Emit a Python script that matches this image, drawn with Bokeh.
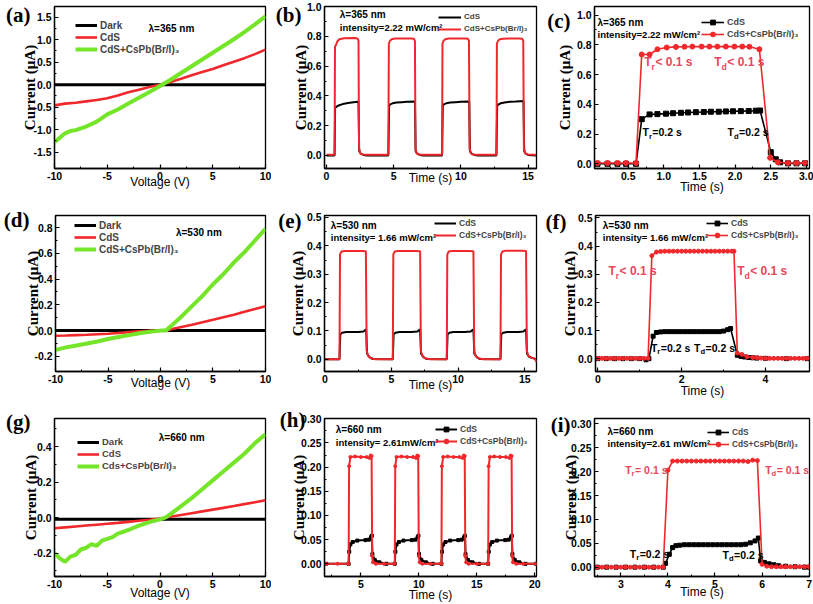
from bokeh.plotting import figure
from bokeh.layouts import row, column
from bokeh.models import (Range1d, FixedTicker, PrintfTickFormatter, Legend,
                          LegendItem, Label, LinearAxis)
from bokeh.embed import file_html
from bokeh.resources import INLINE

# ------------------------------------------------------------------ data
# (a) I-V, 365 nm
a_v = [-10, -9, -8, -7, -6, -5, -4, -3, -2, -1, 0, 1, 2, 3, 4, 5, 6, 7, 8, 9, 10]
a_dark = [0.0, 0.0, 0.0, 0.0, 0.0, 0.0, 0.0, 0.0, 0.0, 0.0, 0.0, 0.0, 0.0, 0.0, 0.0,
          0.0, 0.0, 0.0, 0.0, 0.0, 0.0]
a_cds = [-0.46, -0.42, -0.40, -0.37, -0.34, -0.30, -0.24, -0.17, -0.11, -0.05, 0.0,
         0.06, 0.13, 0.21, 0.28, 0.35, 0.43, 0.51, 0.59, 0.68, 0.78]
a_hyb_v = [-10, -9.5, -9, -8.5, -8, -7, -6, -5, -4, -3, -2, -1, 0, 1, 2, 3, 4, 5, 6, 7, 8, 9, 10]
a_hyb = [-1.28, -1.18, -1.08, -1.03, -1.01, -0.93, -0.82, -0.66, -0.55, -0.42, -0.29,
         -0.16, -0.03, 0.11, 0.26, 0.41, 0.56, 0.71, 0.86, 1.01, 1.17, 1.34, 1.52]

# (d) I-V, 530 nm
d_v = [-10, -9, -8, -7, -6, -5, -4, -3, -2, -1, 0, 0.5, 1, 2, 3, 4, 5, 6, 7, 8, 9, 10]
d_dark = [0.0, 0.0, 0.0, 0.0, 0.0, 0.0, 0.0, 0.0, 0.0, 0.0, 0.0, 0.0, 0.0, 0.0, 0.0,
          0.0, 0.0, 0.0, 0.0, 0.0, 0.0, 0.0]
d_cds = [-0.04, -0.038, -0.035, -0.032, -0.028, -0.024, -0.018, -0.012, -0.006, -0.002,
         0.0, 0.0, 0.01, 0.028, 0.046, 0.065, 0.084, 0.104, 0.124, 0.146, 0.168, 0.19]
d_hyb = [-0.15, -0.13, -0.115, -0.10, -0.085, -0.065, -0.05, -0.035, -0.02, -0.008,
         0.0, 0.0, 0.035, 0.11, 0.19, 0.27, 0.36, 0.44, 0.53, 0.61, 0.70, 0.79]

# (g) I-V, 660 nm
g_v = [-10, -9, -8, -7, -6, -5, -4, -3, -2, -1, 0, 1, 2, 3, 4, 5, 6, 7, 8, 9, 10]
g_dark = [-0.01, -0.01, -0.01, -0.01, -0.01, -0.01, -0.01, -0.01, -0.01, -0.01, -0.01,
          -0.01, -0.01, -0.01, -0.01, -0.01, -0.01, -0.01, -0.01, -0.01, -0.01]
g_cds = [-0.06, -0.055, -0.05, -0.045, -0.04, -0.035, -0.03, -0.024, -0.018, -0.012,
         -0.005, 0.005, 0.015, 0.025, 0.035, 0.045, 0.055, 0.065, 0.076, 0.087, 0.098]
g_hyb_v = [-10, -9.5, -9, -8.5, -8, -7.5, -7, -6.5, -6, -5.5, -5, -4.5, -4, -3, -2, -1,
           0, 0.5, 1, 2, 3, 4, 5, 6, 7, 8, 9, 10]
g_hyb = [-0.20, -0.23, -0.25, -0.22, -0.21, -0.18, -0.17, -0.15, -0.16, -0.13, -0.12,
         -0.11, -0.09, -0.07, -0.045, -0.025, -0.01, 0.0, 0.02, 0.065, 0.11, 0.16, 0.21,
         0.26, 0.31, 0.36, 0.42, 0.47]

# (b) on/off cycles, 365 nm
b_t_cds = [0.0, 0.6, 0.64, 0.75, 0.9, 1.2, 1.6, 2.0, 2.38, 2.43, 2.55, 2.75, 3.0,
           4.6, 4.66, 4.77, 4.92, 5.2, 5.6, 6.0, 6.58, 6.63, 6.75, 6.95, 7.2,
           8.6, 8.65, 8.76, 8.91, 9.2, 9.6, 10.0, 10.62, 10.67, 10.8, 11.0, 11.3,
           12.64, 12.7, 12.81, 12.96, 13.25, 13.65, 14.1, 14.66, 14.71, 14.83, 15.0, 15.6]
b_cds = [0.0, 0.0, 0.32, 0.328, 0.336, 0.345, 0.352, 0.357, 0.36, 0.03, 0.012, 0.004, 0.0,
         0.0, 0.335, 0.345, 0.35, 0.355, 0.358, 0.36, 0.363, 0.03, 0.012, 0.004, 0.0,
         0.0, 0.335, 0.345, 0.35, 0.355, 0.358, 0.36, 0.363, 0.03, 0.012, 0.004, 0.0,
         0.0, 0.335, 0.343, 0.35, 0.356, 0.36, 0.362, 0.365, 0.03, 0.012, 0.004, 0.0]
b_t_hyb = [0.0, 0.6, 0.63, 0.72, 0.8, 0.95, 1.3, 2.1, 2.3, 2.38, 2.42, 2.5, 2.65, 2.9,
           4.6, 4.64, 4.72, 4.85, 5.1, 5.5, 6.3, 6.5, 6.58, 6.62, 6.7, 6.85, 7.1,
           8.6, 8.63, 8.71, 8.84, 9.1, 9.5, 10.3, 10.52, 10.6, 10.65, 10.73, 10.88, 11.1,
           12.65, 12.68, 12.76, 12.89, 13.15, 13.55, 14.35, 14.56, 14.64, 14.69, 14.77,
           14.92, 15.6]
b_hyb = [0.005, 0.005, 0.73, 0.745, 0.765, 0.78, 0.787, 0.788, 0.786, 0.77, 0.05, 0.015,
         0.007, 0.005,
         0.005, 0.75, 0.77, 0.78, 0.785, 0.786, 0.786, 0.784, 0.77, 0.05, 0.015, 0.007, 0.005,
         0.005, 0.75, 0.77, 0.78, 0.785, 0.785, 0.785, 0.783, 0.77, 0.05, 0.015, 0.007, 0.005,
         0.005, 0.75, 0.77, 0.78, 0.784, 0.785, 0.785, 0.783, 0.77, 0.05, 0.015, 0.007, 0.005]

# (c) single cycle, 365 nm
c_t_cds = [0.07, 0.21, 0.35, 0.47, 0.61, 0.69, 0.80, 0.91, 1.03, 1.13, 1.24, 1.34, 1.45,
           1.56, 1.66, 1.77, 1.87, 1.97, 2.08, 2.19, 2.29, 2.35, 2.50, 2.57, 2.63, 2.74,
           2.86, 2.98]
c_cds = [0.0, 0.0, 0.0, 0.0, 0.0, 0.30, 0.332, 0.334, 0.337, 0.34, 0.343, 0.345, 0.347,
         0.348, 0.35, 0.35, 0.352, 0.353, 0.354, 0.355, 0.357, 0.358, 0.078, 0.03, 0.01,
         0.003, 0.003, 0.003]
c_t_hyb = [0.07, 0.21, 0.35, 0.47, 0.61, 0.69, 0.80, 0.91, 1.04, 1.17, 1.29, 1.40, 1.53,
           1.64, 1.75, 1.87, 1.99, 2.10, 2.20, 2.34, 2.49, 2.60, 2.74, 2.86, 2.98]
c_hyb = [0.005, 0.005, 0.005, 0.005, 0.005, 0.735, 0.735, 0.77, 0.782, 0.786, 0.787,
         0.788, 0.788, 0.788, 0.788, 0.788, 0.788, 0.788, 0.787, 0.77, 0.04, 0.01, 0.005,
         0.005, 0.005]

# (e) on/off cycles, 530 nm
e_t_cds = [0.0, 1.1, 1.16, 1.3, 1.6, 2.5, 2.9, 3.05, 3.1, 3.17, 3.35, 3.6,
           5.1, 5.16, 5.3, 5.6, 6.5, 6.95, 7.1, 7.15, 7.22, 7.4, 7.65,
           9.15, 9.21, 9.35, 9.65, 10.5, 10.95, 11.1, 11.15, 11.22, 11.4, 11.65,
           13.18, 13.24, 13.38, 13.68, 14.5, 14.9, 15.05, 15.1, 15.17, 15.35, 15.9]
e_cds = [0.0, 0.0, 0.088, 0.094, 0.096, 0.096, 0.098, 0.104, 0.105, 0.02, 0.008, 0.001,
         0.0, 0.088, 0.094, 0.096, 0.096, 0.098, 0.104, 0.105, 0.02, 0.008, 0.001,
         0.0, 0.088, 0.094, 0.096, 0.096, 0.098, 0.104, 0.105, 0.02, 0.008, 0.001,
         0.0, 0.088, 0.094, 0.096, 0.096, 0.098, 0.104, 0.105, 0.02, 0.008, 0.0]
e_t_hyb = [0.0, 1.1, 1.14, 1.25, 1.5, 2.8, 3.08, 3.14, 3.25, 3.45, 3.8,
           5.1, 5.14, 5.25, 5.5, 6.8, 7.15, 7.21, 7.32, 7.52, 7.9,
           9.15, 9.19, 9.3, 9.55, 10.85, 11.15, 11.21, 11.32, 11.52, 11.9,
           13.18, 13.22, 13.33, 13.58, 14.8, 15.1, 15.16, 15.27, 15.5, 15.75, 15.9]
e_hyb = [0.0, 0.0, 0.37, 0.38, 0.382, 0.382, 0.381, 0.03, 0.012, 0.004, 0.0,
         0.0, 0.37, 0.38, 0.382, 0.382, 0.381, 0.03, 0.012, 0.004, 0.0,
         0.0, 0.37, 0.38, 0.382, 0.382, 0.381, 0.03, 0.012, 0.004, 0.0,
         0.0, 0.37, 0.38, 0.383, 0.383, 0.382, 0.03, 0.012, 0.006, 0.002, -0.01]

# (f) single cycle, 530 nm
f_t_cds = [0.0, 0.2, 0.4, 0.6, 0.8, 1.0, 1.15, 1.22, 1.32, 1.4, 1.5, 1.6, 1.7, 1.8, 1.9,
           2.0, 2.1, 2.2, 2.3, 2.4, 2.5, 2.6, 2.7, 2.8, 2.9, 3.0, 3.1, 3.17, 3.33, 3.42,
           3.5, 3.6, 3.7, 3.8, 4.0, 4.5, 5.0]
f_cds = [0.0, 0.0, 0.0, 0.0, 0.0, 0.0, -0.004, 0.0, 0.08, 0.093, 0.095, 0.096, 0.096,
         0.096, 0.096, 0.096, 0.096, 0.096, 0.096, 0.096, 0.096, 0.096, 0.096, 0.096,
         0.096, 0.098, 0.103, 0.107, 0.012, 0.008, 0.006, 0.004, 0.003, 0.002, 0.001,
         0.0, 0.0]
f_t_hyb = [0.0, 0.1, 0.2, 0.3, 0.4, 0.5, 0.6, 0.7, 0.8, 0.9, 1.0, 1.1, 1.2, 1.29, 1.4,
           1.5, 1.6, 1.7, 1.8, 1.9, 2.0, 2.1, 2.2, 2.3, 2.4, 2.5, 2.6, 2.7, 2.8, 2.9, 3.0,
           3.1, 3.2, 3.25, 3.33, 3.44, 3.56, 3.7, 3.8, 3.9, 4.0, 4.1, 4.2, 4.3, 4.4, 4.5,
           4.6, 4.7, 4.8, 4.9, 5.0]
f_hyb = [0.001, 0.001, 0.001, 0.001, 0.001, 0.001, 0.001, 0.001, 0.001, 0.001, 0.001,
         0.001, 0.001, 0.366, 0.379, 0.381, 0.382, 0.382, 0.382, 0.382, 0.382, 0.382,
         0.382, 0.382, 0.382, 0.382, 0.382, 0.382, 0.382, 0.382, 0.382, 0.382, 0.382,
         0.382, 0.02, 0.015, 0.007, 0.004, 0.003, 0.002, 0.001, 0.001, 0.001, 0.001,
         0.001, 0.001, 0.001, 0.001, 0.001, 0.001, 0.001]

# (h) on/off cycles, 660 nm
h_t_cds = [2.0, 3.95, 4.0, 4.1, 4.3, 4.7, 5.4, 5.7, 5.88, 5.95, 6.0, 6.2, 6.6, 7.2,
           7.93, 7.98, 8.08, 8.28, 8.68, 9.4, 9.7, 9.9, 9.97, 10.02, 10.22, 10.62, 11.2,
           11.95, 12.0, 12.1, 12.3, 12.7, 13.4, 13.7, 13.9, 13.98, 14.03, 14.23, 14.63, 15.2,
           15.98, 16.03, 16.13, 16.33, 16.73, 17.45, 17.75, 17.95, 18.02, 18.07, 18.27,
           18.67, 19.2, 20.1]
h_cds = [0.0, 0.0, 0.025, 0.04, 0.045, 0.048, 0.049, 0.05, 0.055, 0.058, 0.02, 0.008,
         0.003, 0.0,
         0.0, 0.025, 0.04, 0.045, 0.048, 0.049, 0.05, 0.055, 0.058, 0.02, 0.008, 0.003, 0.0,
         0.0, 0.025, 0.04, 0.045, 0.048, 0.049, 0.05, 0.055, 0.058, 0.02, 0.008, 0.003, 0.0,
         0.0, 0.025, 0.04, 0.045, 0.048, 0.049, 0.05, 0.055, 0.058, 0.02, 0.008, 0.003, 0.0,
         0.0]
h_t_hyb = [2.0, 3.0, 3.95, 3.99, 4.1, 4.5, 5.0, 5.5, 5.75, 5.85, 5.93, 5.98, 6.05, 6.3, 7.0,
           7.93, 7.97, 8.08, 8.5, 9.0, 9.5, 9.77, 9.87, 9.95, 10.0, 10.07, 10.3, 11.0,
           11.95, 11.99, 12.1, 12.5, 13.0, 13.5, 13.78, 13.88, 13.96, 14.01, 14.08, 14.3, 15.0,
           15.98, 16.02, 16.13, 16.5, 17.0, 17.5, 17.82, 17.92, 18.0, 18.05, 18.12, 18.4,
           19.0, 20.1]
h_hyb = [0.0, 0.0, 0.0, 0.202, 0.221, 0.222, 0.221, 0.221, 0.219, 0.224, 0.223, 0.016,
         0.003, 0.0, 0.0,
         0.0, 0.202, 0.221, 0.222, 0.221, 0.221, 0.219, 0.224, 0.223, 0.016, 0.003, 0.0, 0.0,
         0.0, 0.202, 0.221, 0.222, 0.221, 0.221, 0.219, 0.224, 0.223, 0.016, 0.003, 0.0, 0.0,
         0.0, 0.202, 0.221, 0.222, 0.221, 0.221, 0.219, 0.224, 0.223, 0.016, 0.003, 0.0, 0.0,
         0.0]

# (i) single cycle, 660 nm
i_t_cds = [2.5, 2.7, 2.9, 3.1, 3.3, 3.5, 3.7, 3.9, 3.95, 4.03, 4.1, 4.17, 4.25, 4.35, 4.45,
           4.55, 4.65, 4.75, 4.85, 4.95, 5.05, 5.15, 5.25, 5.35, 5.45, 5.55, 5.65, 5.75,
           5.85, 5.92, 5.97, 6.05, 6.15, 6.25, 6.35, 6.5, 6.7, 6.9, 7.0]
i_cds = [0.0, 0.0, 0.0, 0.0, 0.0, 0.0, 0.0, 0.0, 0.008, 0.027, 0.041, 0.045, 0.046, 0.047,
         0.047, 0.047, 0.047, 0.047, 0.047, 0.047, 0.047, 0.047, 0.047, 0.047, 0.047,
         0.047, 0.048, 0.051, 0.055, 0.061, 0.013, 0.01, 0.007, 0.005, 0.003, 0.002,
         0.001, 0.0, 0.0]
i_t_hyb = [2.5, 2.6, 2.7, 2.8, 2.9, 3.0, 3.1, 3.2, 3.3, 3.4, 3.5, 3.6, 3.7, 3.8, 3.9, 4.0,
           4.1, 4.2, 4.3, 4.4, 4.5, 4.6, 4.7, 4.8, 4.9, 5.0, 5.1, 5.2, 5.3, 5.4, 5.5, 5.6,
           5.7, 5.8, 5.9, 6.0, 6.1, 6.2, 6.3, 6.4, 6.5, 6.6, 6.7, 6.8, 6.9, 7.0]
i_hyb = [0.0, 0.0, 0.0, 0.0, 0.0, 0.0, 0.0, 0.0, 0.0, 0.0, 0.0, 0.0, 0.0, 0.0, 0.0, 0.203,
         0.222, 0.222, 0.222, 0.222, 0.222, 0.222, 0.222, 0.222, 0.222, 0.222, 0.222,
         0.222, 0.222, 0.222, 0.222, 0.222, 0.221, 0.224, 0.223, 0.006, 0.002, 0.001,
         0.001, 0.001, 0.001, 0.001, 0.001, 0.001, 0.001, 0.001]

# tick values
iv_xticks = [-10, -5, 0, 5, 10]
iv_xminor = [-7.5, -2.5, 2.5, 7.5]
a_yticks = [-1.5, -1.0, -0.5, 0.0, 0.5, 1.0, 1.5]
a_yminor = [-1.25, -0.75, -0.25, 0.25, 0.75, 1.25]
d_yticks = [-0.2, 0.0, 0.2, 0.4, 0.6, 0.8]
d_yminor = [-0.1, 0.1, 0.3, 0.5, 0.7]
g_yticks = [-0.2, 0.0, 0.2, 0.4]
g_yminor = [-0.3, -0.1, 0.1, 0.3, 0.5]
b_xticks = [0, 5, 10, 15]
b_xminor = [2.5, 7.5, 12.5]
bc_yticks = [0.0, 0.2, 0.4, 0.6, 0.8, 1.0]
bc_yminor = [0.1, 0.3, 0.5, 0.7, 0.9]
c_xticks = [0.5, 1.0, 1.5, 2.0, 2.5, 3.0]
c_xminor = [0.25, 0.75, 1.25, 1.75, 2.25, 2.75]
ef_yticks = [0.0, 0.1, 0.2, 0.3, 0.4, 0.5]
ef_yminor = [0.05, 0.15, 0.25, 0.35, 0.45]
f_xticks = [0, 2, 4]
f_xminor = [1, 3]
h_xticks = [5, 10, 15, 20]
h_xminor = [2.5, 7.5, 12.5, 17.5]
hi_yticks = [0.00, 0.05, 0.10, 0.15, 0.20, 0.25, 0.30]
hi_yminor = [0.025, 0.075, 0.125, 0.175, 0.225, 0.275]
i_xticks = [3, 4, 5, 6, 7]
i_xminor = [2.5, 3.5, 4.5, 5.5, 6.5]

HYB = "CdS+CsPb(Br/I)\u2083"

# ------------------------------------------------------------------ style / layout
SANS = "Liberation Sans"
SERIF = "Liberation Serif"
BLACK = "#000000"
RED = "#f0282c"
GREEN = "#74e528"
PINK = "#e8475a"

# rows: (top px, height, top border, bottom border); cols: (left px, width, left, right)
ROWS = [(0, 200, 6, 32), (200, 200, 15, 27), (400, 204, 18, 28)]
COLS = [(0, 271, 54, 6), (271, 271, 53, 6), (542, 271, 52, 4)]
PANELS = {'a': (0, 0), 'b': (0, 1), 'c': (0, 2), 'd': (1, 0), 'e': (1, 1), 'f': (1, 2),
          'g': (2, 0), 'h': (2, 1), 'i': (2, 2)}
# screen calibration of each panel: value u at px X0, px per unit
XCAL = {'a': (0, 159.5, 10.55), 'b': (0, 326, 13.44), 'c': (0, 592, 71.33),
        'd': (0, 159.5, 10.55), 'e': (0, 324.3, 13.33), 'f': (0, 596.3, 42.1),
        'g': (0, 159.5, 10.55), 'h': (5, 360.3, 11.6), 'i': (3, 620.3, 47.1)}
YCAL = {'a': (0, 84.2, 45.0), 'b': (0, 155.0, 149.0), 'c': (0, 163.3, 148.75),
        'd': (0, 331.6, 130.4), 'e': (0, 360.7, 287.5), 'f': (0, 360.0, 285.0),
        'g': (0, 517.1, 177.3), 'h': (0, 563.3, 483.3), 'i': (0, 566.7, 478.0)}
TLW = {'a': 18.1, 'b': 14.6, 'c': 14.6, 'd': 18.1, 'e': 14.6, 'f': 14.6,
       'g': 18.1, 'h': 20.4, 'i': 20.4}
YCORR = {'a': -4, 'b': 0, 'c': 2, 'd': -4, 'e': 0, 'f': 0, 'g': -4, 'h': 1, 'i': 0}

GEOM = {}
for key, (ri, ci) in PANELS.items():
    ry, rh, rt, rb = ROWS[ri]
    cx, cw, cl, cr = COLS[ci]
    fl, ft, fr, fb = cx + cl, ry + rt, cx + cw - cr, ry + rh - rb
    u0, X0, kx = XCAL[key]
    v0, Y0, ky = YCAL[key]
    ex = 1e-4 * (fr - fl) / kx
    ey = 1e-4 * (fb - ft) / ky
    GEOM[key] = dict(box=(cx, ry, cw, rh), border=(cl, rt, cr, rb), frame=(fl, ft, fr, fb),
                     xr=(u0 + (fl - X0) / kx - ex, u0 + (fr - X0) / kx + ex),
                     yr=(v0 - (fb - Y0) / ky - ey, v0 + (Y0 - ft) / ky + ey))


def dx(k, ax):
    g = GEOM[k]
    fl, ft, fr, fb = g['frame']
    x0, x1 = g['xr']
    return x0 + (ax - fl) / (fr - fl) * (x1 - x0)


def dy(k, ay):
    g = GEOM[k]
    fl, ft, fr, fb = g['frame']
    y0, y1 = g['yr']
    return y1 - (ay - ft) / (fb - ft) * (y1 - y0)


def make_fig(k, xt, xm, xfmt, yt, ym, yfmt, xlab, xlab_cy, ylab_cx, plab, plab_right,
             plab_cy):
    g = GEOM[k]
    bx, by, bw, bh = g['box']
    bl, bt, br, bb = g['border']
    fl, ft, fr, fb = g['frame']
    p = figure(width=bw, height=bh, x_range=Range1d(*g['xr']), y_range=Range1d(*g['yr']),
               output_backend="svg", toolbar_location=None,
               min_border_left=bl, min_border_right=br,
               min_border_top=bt, min_border_bottom=bb)
    p.xgrid.visible = False
    p.ygrid.visible = False
    p.outline_line_color = BLACK
    p.outline_line_width = 1.3
    p.outline_line_alpha = 1.0
    p.border_fill_color = "white"
    p.background_fill_color = "white"
    p.xaxis.ticker = FixedTicker(ticks=xt, minor_ticks=xm)
    p.yaxis.ticker = FixedTicker(ticks=yt, minor_ticks=ym)
    p.xaxis.formatter = PrintfTickFormatter(format=xfmt)
    p.yaxis.formatter = PrintfTickFormatter(format=yfmt)
    for ax in (p.xaxis[0], p.yaxis[0]):
        ax.major_tick_in = 4
        ax.major_tick_out = 0
        ax.minor_tick_in = 2
        ax.minor_tick_out = 0
        ax.axis_line_width = 1.3
        ax.major_tick_line_width = 1.2
        ax.minor_tick_line_width = 1.0
        ax.major_label_text_font = SANS
        ax.major_label_text_font_style = "bold"
        ax.major_label_text_font_size = "10.5px"
        ax.major_label_text_color = BLACK
        ax.major_label_standoff = 3
    # x title
    xa = p.xaxis[0]
    xa.axis_label = xlab
    xa.axis_label_text_font = SANS
    xa.axis_label_text_font_style = "normal"
    xa.axis_label_text_font_size = "12px"
    xa.axis_label_text_color = BLACK
    xa.axis_label_standoff = int(round(xlab_cy - 6.9 - fb - 15.1))
    # y title
    ya = p.yaxis[0]
    ya.axis_label = "Current (\u03bcA)"
    ya.axis_label_text_font = SERIF
    ya.axis_label_text_font_style = "bold"
    ya.axis_label_text_font_size = "15px"
    ya.axis_label_text_color = BLACK
    yals = int(round(fl - 3 - TLW[k] - (ylab_cx + 8.5)))
    ya.axis_label_standoff = yals + YCORR[k]
    prim = 3 + TLW[k] + yals + 17.3
    # panel letter, as the single label of an extra left axis
    yl = dy(k, max(plab_cy, ft + 1.5))
    la = LinearAxis(ticker=FixedTicker(ticks=[yl], minor_ticks=[]),
                    formatter=PrintfTickFormatter(format=plab))
    la.axis_line_color = None
    la.major_tick_line_color = None
    la.minor_tick_line_color = None
    la.major_tick_out = 0
    la.major_tick_in = 0
    la.major_label_text_font = SERIF
    la.major_label_text_font_style = "bold"
    la.major_label_text_font_size = "21px"
    la.major_label_text_color = BLACK
    la.major_label_standoff = int(round(fl - prim - plab_right - YCORR[k]))
    p.add_layout(la, "left")
    return p


def put(p, k, ax, ay, text, size, color=BLACK, font=SANS, style="bold"):
    p.add_layout(Label(x=dx(k, ax), y=dy(k, ay), text=text, text_font=font,
                       text_font_style=style, text_font_size=f"{size}px", text_color=color,
                       text_align="left", text_baseline="middle"))


def t_note(p, k, ax, ay, sub, rest, size, color):
    put(p, k, ax, ay - 1, "T", size, color)
    wt = 0.611 * size
    ss = round(size * 0.72, 1)
    put(p, k, ax + wt, ay + 0.28 * size, sub, ss, color)
    ws = (0.389 if sub == "r" else 0.611) * ss
    put(p, k, ax + wt + ws + 0.5, ay - 1, rest, size, color)


def add_legend(p, k, entries, gx, gy, gw=22, rowh=12, fs=10):
    fl, ft, fr, fb = GEOM[k]['frame']
    n = len(entries)
    bottom = gy + (n - 1) * rowh + rowh / 2
    leg = Legend(items=[LegendItem(label=lab, renderers=rs) for lab, rs in entries],
                 location=(gx - fl, fb - bottom), orientation="vertical",
                 padding=0, margin=0, spacing=0, glyph_width=gw, glyph_height=rowh,
                 label_height=rowh, label_standoff=3, border_line_alpha=0,
                 background_fill_alpha=0, label_text_font=SANS,
                 label_text_font_style="bold", label_text_font_size=f"{fs}px",
                 label_text_baseline="middle")
    p.add_layout(leg)


def iv_panel(k, v_d, dark, v_c, cds, v_h, hyb, yt, ym, lam, lampos, hyb_label,
             legpos, legfs, lab, labpos, xcy, ycx):
    p = make_fig(k, iv_xticks, iv_xminor, "%d", yt, ym, "%.1f", "Voltage (V)", xcy, ycx,
                 lab, labpos[0], labpos[1])
    r_d = p.line(v_d, dark, line_color=BLACK, line_width=3)
    r_c = p.line(v_c, cds, line_color=RED, line_width=2.6)
    r_h = p.line(v_h, hyb, line_color=GREEN, line_width=4)
    m_d = p.scatter(x=[], y=[], marker="square", size=5, color=BLACK)
    m_c = p.scatter(x=[], y=[], marker="circle", size=5, color=RED)
    m_h = p.scatter(x=[], y=[], marker="triangle", size=6, color=GREEN)
    add_legend(p, k, [("Dark", [r_d, m_d]), ("CdS", [r_c, m_c]), (hyb_label, [r_h, m_h])],
               legpos[0], legpos[1], fs=legfs)
    put(p, k, lampos[0], lampos[1], lam, 10)
    return p


def cycle_panel(k, xt, xm, xfmt, yt, ym, yfmt, t_c, cds, t_h, hyb, lam, inten, txtpos,
                legpos, legfs, lab, labpos, xcy, ycx, lw=2.0, msize=0, gw=22):
    p = make_fig(k, xt, xm, xfmt, yt, ym, yfmt, "Time (s)", xcy, ycx,
                 lab, labpos[0], labpos[1])
    r_c = p.line(t_c, cds, line_color=BLACK, line_width=lw)
    if msize:
        m_c = p.scatter(t_c, cds, marker="square", size=msize, color=BLACK)
    r_h = p.line(t_h, hyb, line_color=RED, line_width=lw)
    if msize:
        m_h = p.scatter(t_h, hyb, marker="circle", size=msize, color=RED)
        ents = [("CdS", [r_c, m_c]), (HYB, [r_h, m_h])]
    else:
        ents = [("CdS", [r_c]), (HYB, [r_h])]
    put(p, k, txtpos[0], txtpos[1], lam, 10)
    put(p, k, txtpos[0], txtpos[1] + 12.5, inten, 9.5)
    add_legend(p, k, ents, legpos[0], legpos[1], gw=gw, fs=legfs)
    return p


pa = iv_panel('a', a_v, a_dark, a_v, a_cds, a_hyb_v, a_hyb, a_yticks, a_yminor,
              "\u03bb=365 nm", (148, 28.3), HYB, (75, 25), 10, "(a)", (35, 14), 182, 28)
pd = iv_panel('d', d_v, d_dark, d_v, d_cds, d_v, d_hyb, d_yticks, d_yminor,
              "\u03bb=530 nm", (175, 232.3), HYB, (73, 227.3), 10, "(d)", (33, 220), 385, 30)
pg = iv_panel('g', g_v, g_dark, g_v, g_cds, g_hyb_v, g_hyb, g_yticks, g_yminor,
              "\u03bb=660 nm", (158.3, 437.3), "Cds+CsPb(Br/I)\u2083", (77, 441.7), 9.5,
              "(g)", (35, 421), 592.7, 29.3)

pb = cycle_panel('b', b_xticks, b_xminor, "%d", bc_yticks, bc_yminor, "%.1f",
                 b_t_cds, b_cds, b_t_hyb, b_hyb, "\u03bb=365 nm",
                 "intensity=2.22 mW/cm\u00b2", (339.3, 14), (438, 16.7), 8, "(b)", (306, 14),
                 178, 302.7, lw=2.0, gw=23)
pc = cycle_panel('c', c_xticks, c_xminor, "%.1f", bc_yticks, bc_yminor, "%.1f",
                 c_t_cds, c_cds, c_t_hyb, c_hyb, "\u03bb=365 nm",
                 "intensity=2.22 mW/cm\u00b2", (597, 21.7), (701, 21.7), 9, "(c)", (575, 20),
                 186.7, 569.3, lw=1.6, msize=5, gw=23)
t_note(pc, 'c', 643.7, 62.7, "r", "< 0.1 s", 12, PINK)
t_note(pc, 'c', 713.7, 62.7, "d", "< 0.1 s", 12, PINK)
t_note(pc, 'c', 642, 132.7, "r", "=0.2 s", 10.5, BLACK)
t_note(pc, 'c', 727, 132.7, "d", "=0.2 s", 10.5, BLACK)

pe = cycle_panel('e', b_xticks, b_xminor, "%d", ef_yticks, ef_yminor, "%.1f",
                 e_t_cds, e_cds, e_t_hyb, e_hyb, "\u03bb=530 nm",
                 "intensity= 1.66 mW/cm\u00b2", (330.3, 225), (434, 225), 8.5, "(e)", (306, 221),
                 386.7, 300.3, lw=2.0)
pf = cycle_panel('f', f_xticks, f_xminor, "%d", ef_yticks, ef_yminor, "%.1f",
                 f_t_cds, f_cds, f_t_hyb, f_hyb, "\u03bb=530 nm",
                 "intensity= 1.66 mW/cm\u00b2", (601.3, 225), (705, 225), 8.5, "(f)", (570, 222),
                 392.7, 571.3, lw=1.6, msize=4)
t_note(pf, 'f', 607, 272.7, "r", "< 0.1 s", 12, PINK)
t_note(pf, 'f', 736.3, 272.7, "d", "< 0.1 s", 12, PINK)
t_note(pf, 'f', 649.7, 350, "r", "=0.2 s", 10.5, BLACK)
t_note(pf, 'f', 693, 350, "d", "=0.2 s", 10.5, BLACK)

ph = cycle_panel('h', h_xticks, h_xminor, "%d", hi_yticks, hi_yminor, "%.2f",
                 h_t_cds, h_cds, h_t_hyb, h_hyb, "\u03bb=660 nm",
                 "intensity= 2.61mW/cm\u00b2", (335.3, 429.3), (435, 429.3), 8.5, "(h)",
                 (309, 419), 595, 301.7, lw=2.0, msize=3)
pi_ = cycle_panel('i', i_xticks, i_xminor, "%d", hi_yticks, hi_yminor, "%.2f",
                  i_t_cds, i_cds, i_t_hyb, i_hyb, "\u03bb=660 nm",
                  "intensity=2.61 mW/cm\u00b2", (607, 430.7), (707, 432.3), 8.3, "(i)",
                  (574, 424), 591.7, 572.7, lw=1.6, msize=4)
t_note(pi_, 'i', 624.7, 470, "r", "= 0.1 s", 10.5, PINK)
t_note(pi_, 'i', 764.7, 470, "d", "= 0.1 s", 10.5, PINK)
t_note(pi_, 'i', 629.3, 554, "r", "=0.2 s", 10.5, BLACK)
t_note(pi_, 'i', 722, 555, "d", "=0.2 s", 10.5, BLACK)

layout = column(row(pa, pb, pc), row(pd, pe, pf), row(pg, ph, pi_))
open("out.html", "w").write(file_html(layout, INLINE))
